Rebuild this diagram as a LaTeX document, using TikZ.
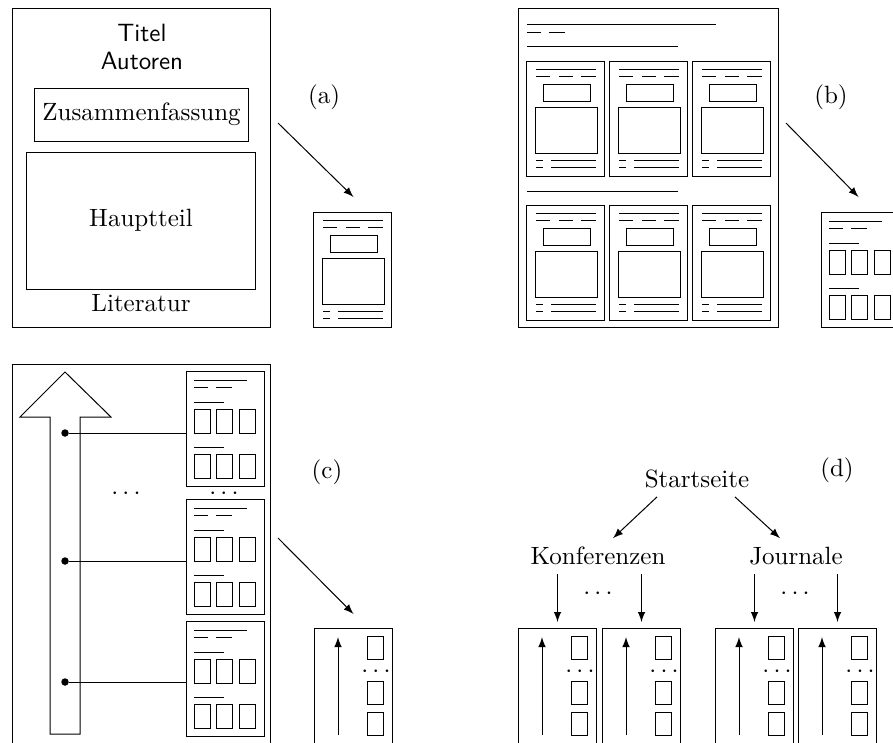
\documentclass[tikz,border=0pt]{standalone}
\usepackage{tikz}
\usetikzlibrary{arrows,positioning,calc}

\tikzset{
  frame/.style={draw, inner sep=0pt, anchor=north west, minimum width=103.2pt},
  page/.style={draw, inner sep=0pt, anchor=north west, minimum width=31.2pt, minimum height=46pt},
  arr/.style={-latex},
  knot/.style={circle, fill, inner sep=0pt, minimum size=3pt}
}

% article page: title, authors, abstract, body, references
\newcommand{\paperpage}[3]{%
  \node[page] (#1) at (#2,#3) {};
  \begin{scope}[shift={(#1.north west)}]
    \draw (10,8) -- (70,8);
    \draw (10,15) -- (24,15) (33,15) -- (47,15) (55,15) -- (70,15);
    \draw (17,23) rectangle (64,40);
    \draw (9,46) rectangle (71,92);
    \draw (10,99) -- (17,99) (25,99) -- (70,99) (10,106) -- (17,106) (25,106) -- (70,106);
  \end{scope}}

% proceedings page with two rows of articles
\newcommand{\indexpage}[3]{%
  \node[page] (#1) at (#2,#3) {};
  \begin{scope}[shift={(#1.north west)}]
    \draw (8,9) -- (61,9);
    \draw (8,16) -- (22,16) (30,16) -- (46,16);
    \foreach \by in {31,76} {
      \draw (8,\by) -- (38,\by);
      \foreach \bx in {8,30,53} \draw (\bx,\by+7) rectangle (\bx+16,\by+31);
    }
  \end{scope}}

% archive page: time arrow and list of proceedings
\newcommand{\archivepage}[3]{%
  \node[page] (#1) at (#2,#3) {};
  \begin{scope}[shift={(#1.north west)}]
    \draw[arr] (24,107) -- (24,9);
    \foreach \by in {8,53,84} \draw (53,\by) rectangle (69,\by+23);
    \node (#1-dots) at (62,44) {$\cdots$};
  \end{scope}}

\begin{document}
\begin{tikzpicture}[x=0.4pt, y=-0.4pt]
    \useasboundingbox (0,0) rectangle (893,742);
    \clip (0,0) rectangle (893,742);

    % (a)
    \node[frame, minimum height=127.6pt] (framea) at (12,8) {};
    \node[font=\sffamily] (titel) at (142,33) {Titel};
    \node[font=\sffamily] (autoren) at (142,61) {Autoren};
    \node[draw, minimum width=85.2pt, minimum height=21.2pt] (abstract) at (141.5,114.5) {Zusammenfassung};
    \node[draw, minimum width=91.2pt, minimum height=54.8pt] (body) at (141,220.5) {Hauptteil};
    \node (refs) at (141,303) {Literatur};
    \node (laba) at (324,97) {(a)};
    \paperpage{pagea}{313}{212}
    \draw[arr] ($(framea.north east)+(7,115)$) -- ($(pagea.north)+(1,-15)$);

    % (b)
    \node[frame, minimum width=104pt, minimum height=127.6pt] (frameb) at (518,8) {};
    \draw (527,24) -- (716,24);
    \draw (527,32) -- (541,32) (549,32) -- (565,32);
    \draw (527,46) -- (678,46);
    \draw (527,191) -- (678,191);
    \foreach \x [count=\i] in {526,609,692} {
        \paperpage{rowa\i}{\x}{61}
        \paperpage{rowb\i}{\x}{205}
    }
    \node (labb) at (831,97) {(b)};
    \indexpage{pageb}{821}{212}
    \draw[arr] ($(frameb.north east)+(7,115)$) -- ($(pageb.north)+(-2,-15)$);

    % (c)
    \node[frame, minimum height=160pt] (framec) at (12,364) {};
    \draw (50,734) -- (50,417) -- (20,417) -- (65,372) -- (111,417) -- (80,417) -- (80,734) -- cycle;
    \indexpage{c1}{186}{371}
    \indexpage{c2}{186}{499}
    \indexpage{c3}{186}{621}
    \node[knot] (k1) at (65,433) {};
    \node[knot] (k2) at (65,561) {};
    \node[knot] (k3) at (65,682) {};
    \draw (k1) -- (k1 -| c1.west);
    \draw (k2) -- (k2 -| c2.west);
    \draw (k3) -- (k3 -| c3.west);
    \node (dotsc) at (126,494) {$\cdots$};
    \node (dotscc) at (224,494) {$\cdots$};
    \node (labc) at (327,472) {(c)};
    \archivepage{pagec}{314}{628}
    \draw[arr] ($(framec.north east)+(7,174)$) -- ($(pagec.north)+(0,-14)$);

    % (d)
    \node (start) at (697,479) {Startseite};
    \node (konf) at (598,556) {Konferenzen};
    \node (journ) at (796,556) {Journale};
    \node (labd) at (837,470) {(d)};
    \archivepage{da}{518}{628}
    \archivepage{db}{602}{628}
    \archivepage{dc}{715}{628}
    \archivepage{dd}{798}{628}
    \draw[arr] ($(start.south)+(-40,0)$) -- ($(konf.north)+(15,0)$);
    \draw[arr] ($(start.south)+(38,0)$) -- ($(journ.north)+(-16,0)$);
    \draw[arr, shorten >=2.4pt] (konf.south -| da.north) -- (da.north);
    \draw[arr, shorten >=2.4pt] (konf.south -| db.north) -- (db.north);
    \draw[arr, shorten >=2.4pt] (journ.south -| dc.north) -- (dc.north);
    \draw[arr, shorten >=2.4pt] (journ.south -| dd.north) -- (dd.north);
    \node (dotsk) at (598,594) {$\cdots$};
    \node (dotsj) at (795,594) {$\cdots$};
\end{tikzpicture}
\end{document}
